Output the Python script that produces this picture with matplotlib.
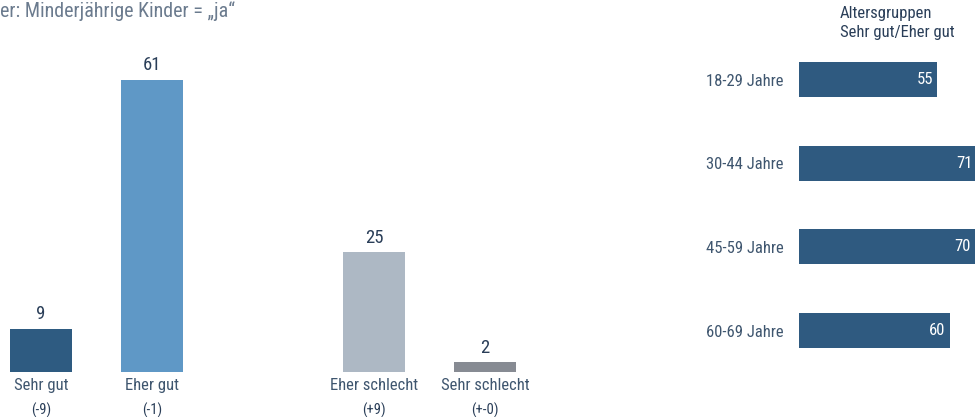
import matplotlib

matplotlib.use("Agg")
import matplotlib.pyplot as plt  # noqa: E402
from matplotlib import font_manager  # noqa: E402

# --- data -----------------------------------------------------------------
categories = ["Sehr gut", "Eher gut", "Eher schlecht", "Sehr schlecht"]
values = [9, 61, 25, 2]
changes = ["(-9)", "(-1)", "(+9)", "(+-0)"]
positions = [0, 1, 3, 4]
bar_colors = ["#2e5b81", "#5f98c6", "#adb8c4", "#878b93"]

age_groups = ["18-29 Jahre", "30-44 Jahre", "45-59 Jahre", "60-69 Jahre"]
age_values = [55, 71, 70, 60]

subtitle = "er: Minderjährige Kinder = \u201eja\u201c"
right_header = "Altersgruppen\nSehr gut/Eher gut"

# --- style ----------------------------------------------------------------
names = {f.name for f in font_manager.fontManager.ttflist}
family = [n for n in ["Liberation Sans Narrow", "Roboto Condensed", "Open Sans", "Roboto"] if n in names]
plt.rcParams["font.family"] = family + ["DejaVu Sans"]

TEXT = "#3f566f"
DARK = "#2a3e58"
W, H = 975, 417

fig = plt.figure(figsize=(W / 100, H / 100), dpi=100)

# left: column chart
axl = fig.add_axes([0, 45 / H, 560 / W, 335 / H])
axl.bar(positions, values, width=0.56, color=bar_colors)
axl.set_xlim(-41 / 111, -41 / 111 + 560 / 111)
axl.set_ylim(0, 335 / 4.787)
for x, v, c, ch in zip(positions, values, categories, changes):
    axl.annotate(str(v), (x, v), xytext=(0, 4), textcoords="offset points",
                 ha="center", va="bottom", fontsize=13.5, color=DARK)
    axl.annotate(c, (x, 0), xytext=(0, -4), textcoords="offset points",
                 ha="center", va="top", fontsize=12, color=TEXT)
    axl.annotate(ch, (x, 0), xytext=(0, -22), textcoords="offset points",
                 ha="center", va="top", fontsize=10.5, color=DARK)
axl.axis("off")

# right: horizontal bars by age group
axr = fig.add_axes([799 / W, 44.6 / H, 201 / W, 334.7 / H])
ypos = list(range(len(age_groups)))
axr.barh(ypos, age_values, height=0.42, color="#2f5a80")
axr.set_xlim(0, 201 / 2.51)
axr.set_ylim(3.5, -0.5)
axr.set_yticks(ypos, age_groups)
axr.tick_params(axis="y", length=0, pad=11, labelsize=12, labelcolor=TEXT)
axr.set_xticks([])
for s in axr.spines.values():
    s.set_visible(False)
for y, v in zip(ypos, age_values):
    axr.annotate(str(v), (v, y), xytext=(-3, 0), textcoords="offset points",
                 ha="right", va="center", fontsize=12, color="white")

fig.text(840 / W, 1 - 6 / H, right_header, ha="left", va="top",
         fontsize=12, color=DARK, linespacing=1.3)
fig.text(0, 1 - 1 / H, subtitle, ha="left", va="top", fontsize=14.5, color="#6b7b8e")

fig.savefig("out.png", dpi=100)
